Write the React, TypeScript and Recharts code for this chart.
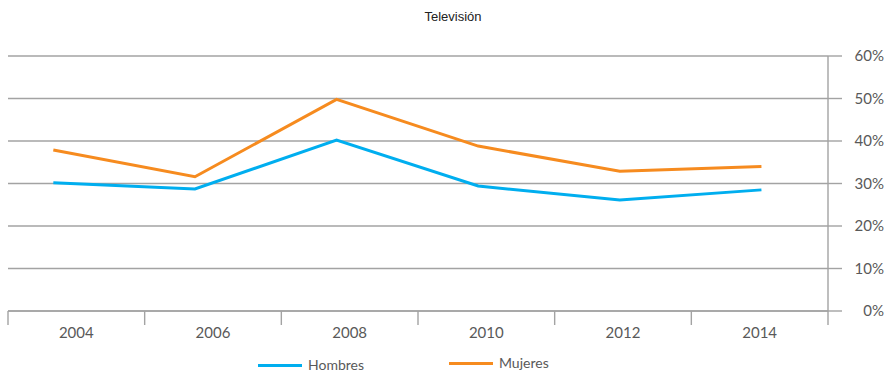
import { CartesianGrid, Legend, Line, LineChart, XAxis, YAxis } from "recharts";

const years = ["2004", "2006", "2008", "2010", "2012", "2014"];
const hombres = [30.2, 28.7, 40.2, 29.4, 26.1, 28.5];
const mujeres = [37.9, 31.6, 49.8, 38.8, 32.9, 34.0];
const percentTicks = [0, 10, 20, 30, 40, 50, 60];
const bandTicks = [0, 1, 2, 3, 4, 5, 6];

const rows = years.map((year, i) => ({ year, pos: i, hombres: hombres[i], mujeres: mujeres[i] }));

const BLUE = "#00AEEF";
const ORANGE = "#F68B1F";
const GRID = "#a3a3a3";
const TEXT = "#595959";
const FONT = "Lato, 'Open Sans', sans-serif";

const WIDTH = 887;
const HEIGHT = 373;
const MARGIN = { top: 56, right: 0, bottom: 0, left: 8 };
const Y_AXIS_WIDTH = 59;
const PLOT_WIDTH = WIDTH - MARGIN.left - MARGIN.right - Y_AXIS_WIDTH;
const HALF_BAND = PLOT_WIDTH / years.length / 2;

// Year labels sit in the middle of each band; tick marks stay on the band edges.
function YearTick({ x, y, payload }: any) {
  const label = years[payload.value];
  if (!label) return null;
  return (
    <text x={x + HALF_BAND} y={y} dy="0.71em" textAnchor="middle" fill={TEXT} fontSize={15} fontFamily={FONT}>
      {label}
    </text>
  );
}

function PercentTick({ x, y, payload }: any) {
  return (
    <text x={x + 42} y={y} dy="0.355em" textAnchor="end" fill={TEXT} fontSize={15} fontFamily={FONT}>
      {`${payload.value}%`}
    </text>
  );
}

function SeriesLegend({ payload }: any) {
  const items = payload ?? [];
  return (
    <div style={{ height: 30, display: "flex", paddingLeft: 250, fontFamily: FONT, fontSize: 14, color: TEXT }}>
      {items.map((entry: any, i: number) => (
        <div
          key={entry.value}
          style={{
            display: "flex",
            alignItems: "center",
            width: i === 0 ? 191 : "auto",
            marginTop: i === 0 ? 14 : 12,
            height: 16,
            lineHeight: "16px",
          }}
        >
          <span style={{ display: "inline-block", width: 44, height: 3, background: entry.color, marginRight: 6 }} />
          <span>{entry.value}</span>
        </div>
      ))}
    </div>
  );
}

export default function App() {
  return (
    <div style={{ position: "absolute", left: 0, top: 0, width: WIDTH, height: HEIGHT, background: "#fff" }}>
      <div
        style={{
          position: "absolute",
          top: 9,
          left: 453,
          transform: "translateX(-50%)",
          fontFamily: "'Liberation Sans Narrow', 'Liberation Sans', sans-serif",
          fontSize: 13,
          color: "#222",
          whiteSpace: "nowrap",
        }}
      >
        Televisión
      </div>
      <LineChart width={WIDTH} height={HEIGHT} data={rows} margin={MARGIN}>
        <CartesianGrid xAxisId="band" vertical={false} stroke={GRID} strokeWidth={1.4} />
        <XAxis
          xAxisId="band"
          type="number"
          dataKey="pos"
          domain={[0, 6]}
          ticks={bandTicks}
          interval={0}
          allowDataOverflow
          height={32}
          tickSize={14}
          tickMargin={2}
          stroke={GRID}
          strokeWidth={1.4}
          tick={<YearTick />}
        />
        <XAxis xAxisId="pt" type="number" dataKey="pos" domain={[-0.32, 5.47]} allowDataOverflow hide />
        <YAxis
          orientation="right"
          domain={[0, 60]}
          ticks={percentTicks}
          width={Y_AXIS_WIDTH}
          tickSize={14}
          tickMargin={0}
          stroke={GRID}
          strokeWidth={1.4}
          tick={<PercentTick />}
        />
        <Line xAxisId="pt" type="linear" dataKey="hombres" name="Hombres" stroke={BLUE} strokeWidth={3} dot={false} isAnimationActive={false} />
        <Line xAxisId="pt" type="linear" dataKey="mujeres" name="Mujeres" stroke={ORANGE} strokeWidth={3} dot={false} isAnimationActive={false} />
        <Legend verticalAlign="bottom" height={30} content={<SeriesLegend />} />
      </LineChart>
    </div>
  );
}
